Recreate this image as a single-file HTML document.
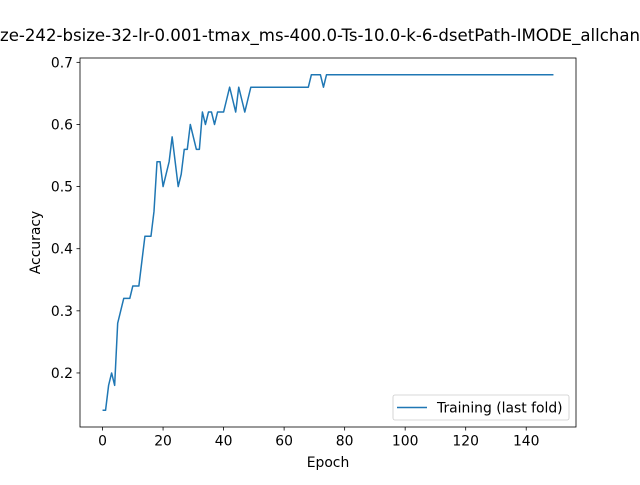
<!DOCTYPE html>
<html><head><meta charset="utf-8"><style>
html,body{margin:0;padding:0;background:#fff;}
svg text{font-family:"DejaVu Sans","Liberation Sans",sans-serif;fill:#000;}
</style></head><body>
<svg width="640" height="480" viewBox="0 0 640 480" xmlns="http://www.w3.org/2000/svg">
<rect width="640" height="480" fill="#fff"/>
<text x="320" y="41" font-size="16.7" text-anchor="middle" textLength="640" lengthAdjust="spacingAndGlyphs">ze-242-bsize-32-lr-0.001-tmax_ms-400.0-Ts-10.0-k-6-dsetPath-IMODE_allchan</text>
<g id="plot"></g>
<rect x="80" y="58" width="496" height="369" fill="none" stroke="#000" stroke-width="0.8"/>
<text x="328" y="467" font-size="13.9" text-anchor="middle">Epoch</text>
<text transform="translate(40,242.5) rotate(-90)" font-size="13.9" text-anchor="middle">Accuracy</text>
<g>
<rect x="393" y="395" width="176" height="25" rx="2" fill="#fff" fill-opacity="0.8" stroke="#ccc" stroke-width="0.8"/>
<line x1="397" y1="407.5" x2="427" y2="407.5" stroke="#1f77b4" stroke-width="1.5"/>
<text x="437" y="412.5" font-size="13.9">Training (last fold)</text>
</g>
</svg>
<script>
const xTicks=[0,20,40,60,80,100,120,140];
const yTicks=[0.2,0.3,0.4,0.5,0.6,0.7];
const early=[0.14,0.14,0.18,0.20,0.18,0.28,0.30,0.32,0.32,0.32,0.34,0.34,0.34,0.38,0.42,0.42,0.42,0.46,0.54,0.54,0.50,0.52,0.54,0.58,0.54,0.50,0.52,0.56,0.56,0.60,0.58,0.56,0.56,0.62,0.60,0.62,0.62,0.60,0.62,0.62,0.62,0.64,0.66,0.64,0.62,0.66,0.64,0.62,0.64,0.66,0.66,0.66,0.66,0.66,0.66,0.66,0.66,0.66,0.66,0.66,0.66,0.66,0.66,0.66,0.66,0.66,0.66,0.66,0.66,0.68,0.68,0.68,0.68,0.66,0.68];
const accuracy=early.concat(Array(75).fill(0.68));
const xMin=-7.45,xMax=156.45,yMin=0.113,yMax=0.707;
const L=80,R=576,T=58,B=427;
const sx=v=>L+(v-xMin)/(xMax-xMin)*(R-L);
const sy=v=>B-(v-yMin)/(yMax-yMin)*(B-T);
const NS="http://www.w3.org/2000/svg";
const g=document.getElementById('plot');
function mk(t,a){const e=document.createElementNS(NS,t);for(const k in a)e.setAttribute(k,a[k]);g.appendChild(e);return e;}
xTicks.forEach(v=>{const x=sx(v);
 const l=mk('line',{x1:x,x2:x,y1:B,y2:B+3.5,stroke:'#000','stroke-width':0.8});
 
 
 const t=mk('text',{x:x,y:B+18.5,'font-size':13.9,'text-anchor':'middle'});t.textContent=v;
 
 });
yTicks.forEach(v=>{const y=sy(v);
 const l=mk('line',{x1:L-3.5,x2:L,y1:y,y2:y,stroke:'#000','stroke-width':0.8});
 
 
 const t=mk('text',{x:L-7,y:y+5,'font-size':13.9,'text-anchor':'end'});t.textContent=v.toFixed(1);
 
 });
const p=mk('polyline',{points:accuracy.map((v,i)=>sx(i)+','+sy(v)).join(' '),fill:'none',stroke:'#1f77b4','stroke-width':1.5,'stroke-linejoin':'round'});


</script>
</body></html>
